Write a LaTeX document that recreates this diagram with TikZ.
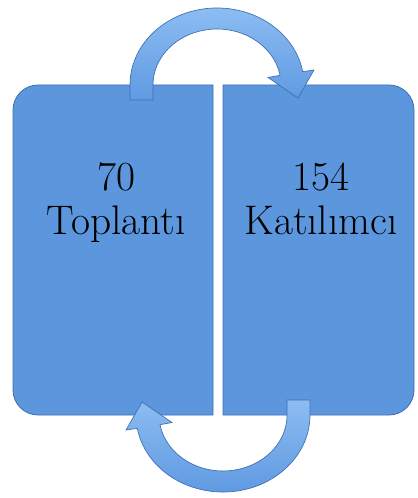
\documentclass[tikz,border=0pt]{standalone}
\usepackage{tikz}

\definecolor{boxblue}{RGB}{92,151,222}
\definecolor{boxedge}{RGB}{62,110,178}
\definecolor{arrowlight}{RGB}{140,188,242}
\definecolor{arrowdark}{RGB}{96,154,226}

\tikzset{every picture/.style={line width=0.75pt}}
\tikzset{
  blockbox/.style={fill=boxblue, draw=boxedge, line width=0.6pt},
  cyclearrow/.style={top color=arrowlight, bottom color=arrowdark, draw=boxedge, line width=0.5pt},
  blocktext/.style={align=center, anchor=north, inner sep=0pt, font=\fontsize{31}{33}\selectfont, text=black}
}

\begin{document}
\begin{tikzpicture}[x=0.75pt,y=0.75pt,yscale=-1,xscale=1]
	\useasboundingbox (0,0) rectangle (417,498);

	%Shape: Left block
	\draw [blockbox] (213,85) -- (38,85) .. controls (24.2,85) and (13,96.2) .. (13,110) -- (13,390) .. controls (13,403.8) and (24.2,415) .. (38,415) -- (213,415) -- cycle ;
	%Shape: Right block
	\draw [blockbox] (223,85) -- (389,85) .. controls (402.8,85) and (414,96.2) .. (414,110) -- (414,390) .. controls (414,403.8) and (402.8,415) .. (389,415) -- (223,415) -- cycle ;

	%Shape: Upper circular arrow
	\shade [cyclearrow] (130,100) -- (130,85) arc[start angle=180, end angle=350, x radius=87, y radius=77] -- (314,70) -- (298,98) -- (268,77.5) -- (280,75.3) arc[start angle=350, end angle=180, x radius=64, y radius=56] -- (153,100) -- cycle ;
	%Shape: Lower circular arrow
	\begin{scope}[rotate around={180:(220,250)}]
	\shade [cyclearrow] (130,100) -- (130,85) arc[start angle=180, end angle=350, x radius=87, y radius=77] -- (314,70) -- (298,98) -- (268,77.5) -- (280,75.3) arc[start angle=350, end angle=180, x radius=64, y radius=56] -- (153,100) -- cycle ;
	\end{scope}

	% Text Node
	\node [blocktext] (toplanti) at (116,162) {70\\Toplantı};
	% Text Node
	\node [blocktext] (katilimci) at (321,162) {154\\Katılımcı};

\end{tikzpicture}
\end{document}
